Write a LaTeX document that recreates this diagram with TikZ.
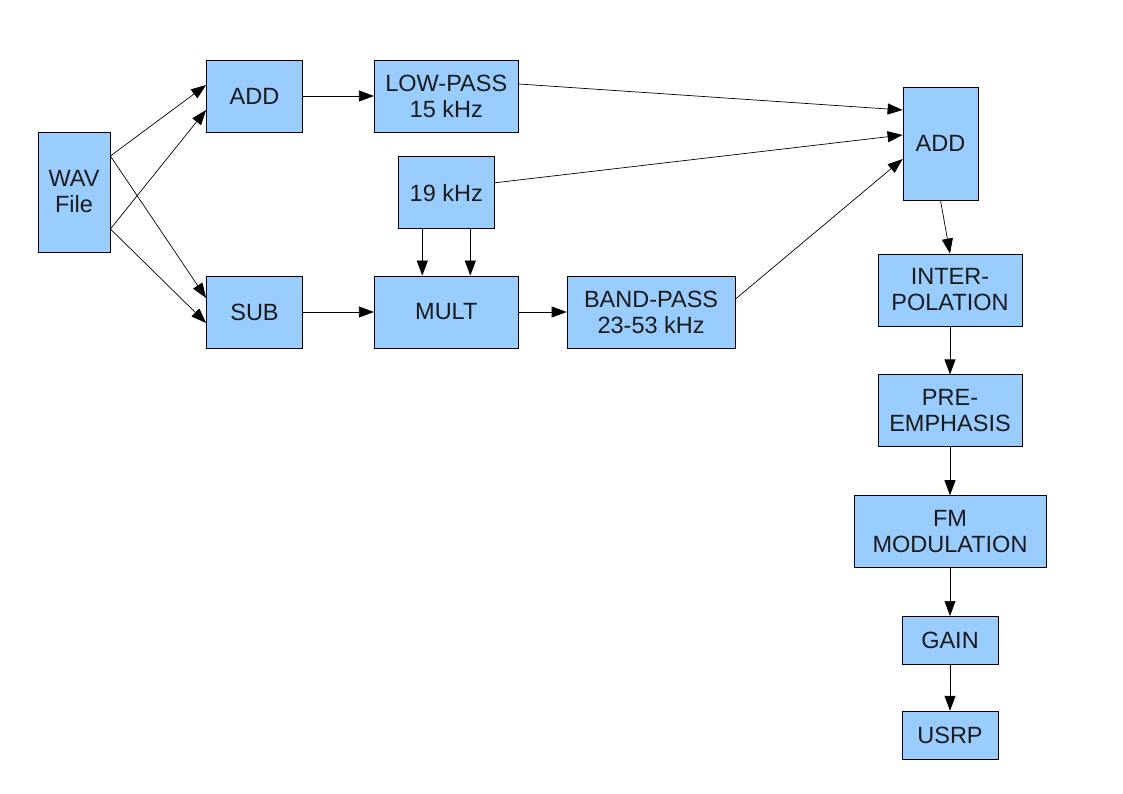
\documentclass[tikz,border=0pt]{standalone}
\usepackage{fontspec}
\setmainfont{Liberation Sans}
\usepackage{tikz}
\usepackage{xcolor}
\usetikzlibrary{arrows.meta, positioning}
\definecolor{boxblue}{HTML}{99CCFF}
\definecolor{textdark}{HTML}{1A1A1A}

\begin{document}
\begin{tikzpicture}[x=1pt, y=1pt, node distance=48pt,
  block/.style={rectangle, draw, fill=boxblue, line width=0.8pt, inner sep=0pt, minimum width=96pt, minimum height=72pt, text=textdark, font=\fontsize{23.5}{26}\selectfont, align=center},
  arrow/.style={-{Triangle[length=15pt, width=11pt]}, line width=0.7pt}]

\useasboundingbox (0,0) rectangle (1123,-794);

% input and sum/difference
\node[block, minimum width=72pt, minimum height=120pt] (wav) at (74,-192) {WAV\\File};
\node[block] (add1) at (254.5,-96) {ADD};
\node[block] (sub) at (254.5,-312) {SUB};

% filters and pilot
\node[block, minimum width=144pt, right=71pt of add1] (lowpass) {LOW-PASS\\15 kHz};
\node[block, minimum width=144pt, right=71pt of sub] (mult) {MULT};
\node[block, below=24pt of lowpass] (pilot) {19 kHz};
\node[block, minimum width=168pt, right=48pt of mult] (bandpass) {BAND-PASS\\23-53 kHz};

% output chain
\node[block, minimum width=75pt, minimum height=113pt] (add2) at (940.5,-143.5) {ADD};
\node[block, minimum width=144pt] (interp) at (950,-290) {INTER-\\POLATION};
\node[block, minimum width=144pt, below=of interp] (preemph) {PRE-\\EMPHASIS};
\node[block, minimum width=192pt, below=of preemph] (fmmod) {FM\\MODULATION};
\node[block, minimum height=48pt, below=of fmmod] (gain) {GAIN};
\node[block, minimum height=48pt, below=46pt of gain] (usrp) {USRP};

\draw[arrow] ([yshift=36pt]wav.east) -- ([yshift=11pt]add1.west);
\draw[arrow] ([yshift=-37pt]wav.east) -- ([yshift=-14pt]add1.west);
\draw[arrow] ([yshift=36pt]wav.east) -- ([yshift=14pt]sub.west);
\draw[arrow] ([yshift=-37pt]wav.east) -- ([yshift=-11pt]sub.west);
\draw[arrow] (add1) -- (lowpass);
\draw[arrow] (sub) -- (mult);
\draw[arrow] ([xshift=-24pt]pilot.south) -- ([xshift=-24pt]mult.north);
\draw[arrow] ([xshift=24pt]pilot.south) -- ([xshift=24pt]mult.north);
\draw[arrow] (mult) -- (bandpass);
\draw[arrow] ([yshift=12pt]lowpass.east) -- ([yshift=33.5pt]add2.west);
\draw[arrow] ([yshift=10pt]pilot.east) -- ([yshift=8.5pt]add2.west);
\draw[arrow] ([yshift=13pt]bandpass.east) -- ([yshift=-15.5pt]add2.west);
\draw[arrow] (add2.south) -- (interp.north);
\draw[arrow] (interp) -- (preemph);
\draw[arrow] (preemph) -- (fmmod);
\draw[arrow] (fmmod) -- (gain);
\draw[arrow] (gain) -- (usrp);
\end{tikzpicture}
\end{document}
